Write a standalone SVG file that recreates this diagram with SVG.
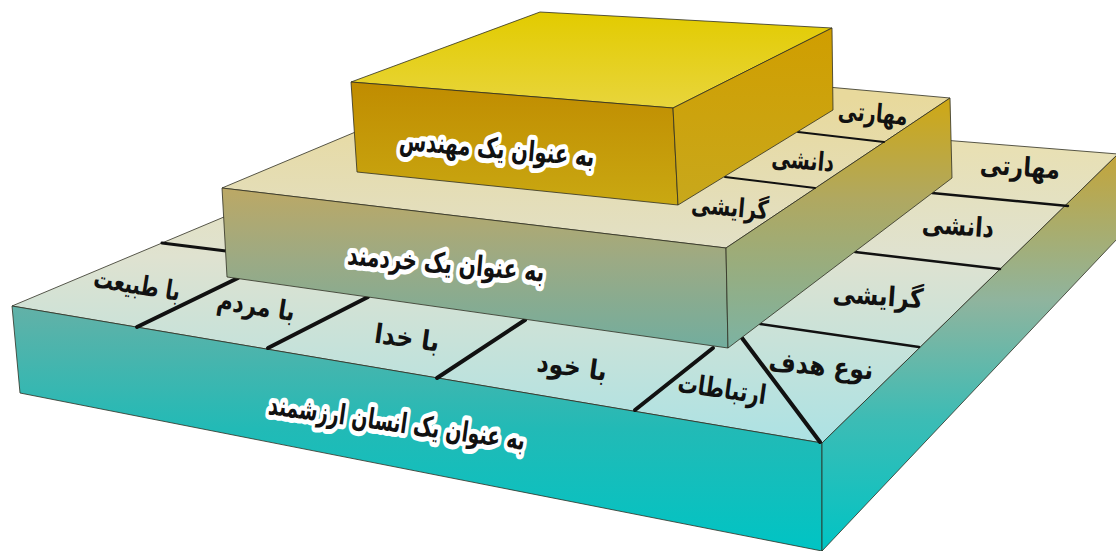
<svg xmlns="http://www.w3.org/2000/svg" width="1116" height="551" viewBox="0 0 1116 551">
<defs>
<style>
.face{stroke:#2e2e22;stroke-width:0.8;stroke-linejoin:round}
.cell{font-family:'DejaVu Sans',sans-serif;font-weight:bold;font-size:27px;fill:#111;text-anchor:middle}
.cell2{font-family:'DejaVu Sans',sans-serif;font-weight:bold;font-size:26px;fill:#111;text-anchor:middle}
.lbl{font-family:'DejaVu Sans',sans-serif;font-weight:bold;font-size:28px;fill:#111;text-anchor:middle;stroke:#fff;stroke-width:10;stroke-linejoin:round;paint-order:stroke}
.div{stroke:#111;stroke-linecap:round;fill:none}
</style>
<linearGradient id="g1top" gradientUnits="userSpaceOnUse" x1="0" y1="104" x2="0" y2="443">
<stop offset="0" stop-color="#ecdfa8"/><stop offset="0.45" stop-color="#dfe2d0"/><stop offset="1" stop-color="#ace2e4"/>
</linearGradient>
<linearGradient id="g1front" gradientUnits="userSpaceOnUse" x1="0" y1="306" x2="0" y2="551">
<stop offset="0" stop-color="#63b1a7"/><stop offset="0.5" stop-color="#22bab6"/><stop offset="1" stop-color="#00c4c4"/>
</linearGradient>
<linearGradient id="g1right" gradientUnits="userSpaceOnUse" x1="0" y1="154" x2="0" y2="551">
<stop offset="0" stop-color="#c4a53a"/><stop offset="0.37" stop-color="#8fb49e"/><stop offset="0.67" stop-color="#3cbcb5"/><stop offset="1" stop-color="#00c4c4"/>
</linearGradient>
<linearGradient id="g2top" gradientUnits="userSpaceOnUse" x1="0" y1="60" x2="0" y2="248">
<stop offset="0.2" stop-color="#e8d99c"/><stop offset="1" stop-color="#e2e0c6"/>
</linearGradient>
<linearGradient id="g2front" gradientUnits="userSpaceOnUse" x1="0" y1="188" x2="0" y2="348">
<stop offset="0" stop-color="#bca865"/><stop offset="0.45" stop-color="#9caa84"/><stop offset="1" stop-color="#72ad9e"/>
</linearGradient>
<linearGradient id="g2right" gradientUnits="userSpaceOnUse" x1="0" y1="98" x2="0" y2="348">
<stop offset="0" stop-color="#cfa814"/><stop offset="0.4" stop-color="#b0a860"/><stop offset="1" stop-color="#7cb3a3"/>
</linearGradient>
<linearGradient id="g3top" gradientUnits="userSpaceOnUse" x1="0" y1="12" x2="0" y2="108">
<stop offset="0" stop-color="#e2cb00"/><stop offset="1" stop-color="#e8d53c"/>
</linearGradient>
<linearGradient id="g3front" gradientUnits="userSpaceOnUse" x1="0" y1="82" x2="0" y2="205">
<stop offset="0" stop-color="#c08c00"/><stop offset="1" stop-color="#c9a812"/>
</linearGradient>
<linearGradient id="g3right" gradientUnits="userSpaceOnUse" x1="0" y1="28" x2="0" y2="205">
<stop offset="0" stop-color="#d09e00"/><stop offset="1" stop-color="#c8a81c"/>
</linearGradient>
</defs>

<g id="layer-bottom">
<polygon class="face" fill="url(#g1top)" points="12,306 493,104 1118,154 822,443"/>
<polygon class="face" fill="url(#g1front)" points="12,306 822,443 822,551 20,393"/>
<polygon class="face" fill="url(#g1right)" points="822,443 1118,154 1118,238 822,551"/>
</g>

<g id="connectors">
<line class="div" stroke-width="4" x1="137" y1="327" x2="238" y2="278"/>
<line class="div" stroke-width="4" x1="268" y1="348" x2="368" y2="297"/>
<line class="div" stroke-width="4" x1="437" y1="378" x2="525" y2="320"/>
<line class="div" stroke-width="4" x1="635" y1="410" x2="713" y2="348"/>
<line class="div" stroke-width="4" x1="742" y1="338" x2="820" y2="442"/>
<line class="div" stroke-width="3" x1="162" y1="243" x2="226" y2="251"/>
<line class="div" stroke-width="2.5" x1="760" y1="324" x2="919" y2="347"/>
<line class="div" stroke-width="2.5" x1="855" y1="252" x2="1000" y2="269"/>
<line class="div" stroke-width="2.5" x1="932" y1="193" x2="1068" y2="206"/>
</g>

<g id="cells-bottom">
<text class="cell" transform="translate(137,285) rotate(9) scale(0.72,1)" y="9">با طبیعت</text>
<text class="cell" transform="translate(256,306) rotate(9) scale(0.81,1)" y="9">با مردم</text>
<text class="cell" transform="translate(407,338) rotate(8) scale(0.88,1)" y="9">با خدا</text>
<text class="cell" transform="translate(572,367) rotate(8) scale(0.88,1)" y="9">با خود</text>
<text class="cell" transform="translate(722,389) rotate(8) scale(0.75,1)" y="9">ارتباطات</text>
<text class="cell" transform="translate(821,366) rotate(5) scale(0.87,1)" y="9">نوع هدف</text>
<text class="cell" transform="translate(878,296) rotate(4) scale(0.85,1)" y="9">گرایشی</text>
<text class="cell" transform="translate(958,226) rotate(4) scale(0.82,1)" y="9">دانشی</text>
<text class="cell" transform="translate(1020,167) rotate(4) scale(0.82,1)" y="9">مهارتی</text>
</g>

<g id="layer-middle">
<polygon class="face" fill="url(#g2top)" points="222,188 527,60 950,98 726,248"/>
<polygon class="face" fill="url(#g2front)" points="222,188 726,248 728,348 227,277"/>
<polygon class="face" fill="url(#g2right)" points="726,248 950,98 952,178 728,348"/>
<line class="div" stroke-width="2" x1="798" y1="132" x2="884" y2="142"/>
<line class="div" stroke-width="2" x1="725" y1="177" x2="815" y2="188"/>
<text class="cell2" transform="translate(873,113) rotate(5) scale(0.74,1)" y="9">مهارتی</text>
<text class="cell2" transform="translate(803,160) rotate(5) scale(0.74,1)" y="9">دانشی</text>
<text class="cell2" transform="translate(730,207) rotate(5) scale(0.75,1)" y="9">گرایشی</text>
<text class="lbl" transform="translate(446,263) rotate(5) scale(0.72,1)" y="10">به عنوان یک خردمند</text>
</g>

<g id="layer-top">
<polygon class="face" fill="url(#g3top)" points="351,82 540,12 832,28 673,108"/>
<polygon class="face" fill="url(#g3front)" points="351,82 673,108 678,205 357,172"/>
<polygon class="face" fill="url(#g3right)" points="673,108 832,28 833,110 678,205"/>
<text class="lbl" transform="translate(497,148) rotate(5) scale(0.70,1)" y="10">به عنوان یک مهندس</text>
</g>

<g id="label-bottom">
<text class="lbl" transform="translate(397,422) rotate(8) scale(0.67,1)" y="10">به عنوان یک انسان ارزشمند</text>
</g>
</svg>
